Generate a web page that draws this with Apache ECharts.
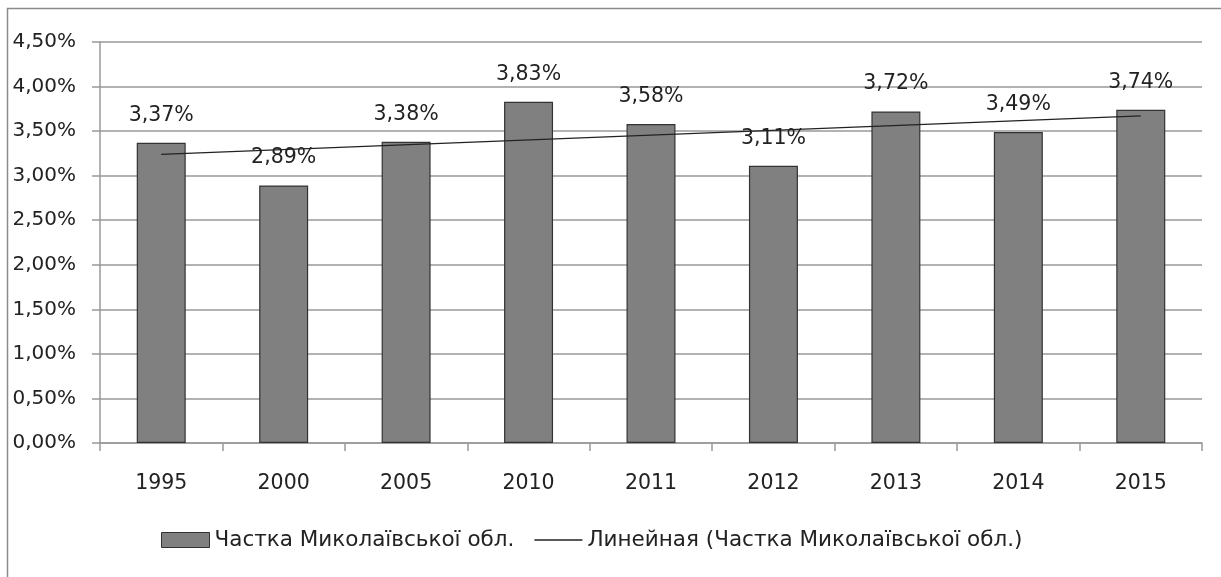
<!DOCTYPE html>
<html>
<head>
<meta charset="utf-8">
<script src="https://cdn.jsdelivr.net/npm/echarts@6/dist/echarts.min.js"></script>
<style>html,body{margin:0;padding:0;background:#fff}#c{width:1221px;height:577px}</style>
</head>
<body>
<div id="c"></div>
<script>
const categories = ['1995','2000','2005','2010','2011','2012','2013','2014','2015'];
const shareValues = [3.37, 2.89, 3.38, 3.83, 3.58, 3.11, 3.72, 3.49, 3.74];
// trend line end points (first and last category), joined straight
const trendValues = [3.24, '-', '-', '-', '-', '-', '-', '-', 3.67];
const barName = 'Частка Миколаївської обл.';
const lineName = 'Линейная (Частка Миколаївської обл.)';

const fmt = v => v.toFixed(2).replace('.', ',') + '%';
const font = 'DejaVu Sans';

const chart = echarts.init(document.getElementById('c'), null, {renderer: 'canvas'});
chart.setOption({
  animation: false,
  backgroundColor: '#fff',
  textStyle: {fontFamily: font},
  graphic: [{
    type: 'rect', silent: true, z: -1,
    shape: {x: 7.5, y: 8.5, width: 1240, height: 620},
    style: {fill: 'none', stroke: '#8a8a8a', lineWidth: 1.5}
  }],
  grid: {left: 100, right: 19, top: 42, bottom: 134},
  legend: {
    bottom: 21, left: 156,
    itemGap: 20,
    textStyle: {fontFamily: font, fontSize: 21.5, color: '#222'},
    data: [
      {name: barName, icon: 'rect', itemStyle: {color: '#808080', borderColor: '#333', borderWidth: 1}},
      {name: lineName, icon: 'path://M0,0 L40,0 L40,1.3 L0,1.3 Z', symbolKeepAspect: true,
       itemStyle: {color: '#222', borderWidth: 0}}
    ],
    itemWidth: 48, itemHeight: 15
  },
  xAxis: {
    type: 'category', data: categories,
    axisLine: {lineStyle: {color: '#999', width: 1.5}},
    axisTick: {show: true, length: 8, alignWithLabel: false, lineStyle: {color: '#999', width: 1.5}},
    axisLabel: {margin: 30, fontSize: 20.5, color: '#222', fontFamily: font}
  },
  yAxis: {
    type: 'value', min: 0, max: 4.5, interval: 0.5,
    axisLine: {show: true, lineStyle: {color: '#999', width: 1.5}},
    axisTick: {show: true, length: 8, lineStyle: {color: '#999', width: 1.5}},
    splitLine: {lineStyle: {color: '#999', width: 1.5}},
    axisLabel: {margin: 24, fontSize: 20, color: '#222', fontFamily: font, formatter: v => fmt(v)}
  },
  series: [
    {
      name: barName, type: 'bar', data: shareValues, barWidth: '40%',
      itemStyle: {color: '#808080', borderColor: '#333', borderWidth: 1.2},
      label: {show: true, position: 'top', distance: 17, fontSize: 20.5, color: '#222', fontFamily: font, formatter: p => fmt(p.value)}
    },
    {
      name: lineName, type: 'line', data: trendValues, connectNulls: true,
      symbol: 'none', z: 5,
      lineStyle: {color: '#222', width: 1.3},
      itemStyle: {color: '#222'}
    }
  ]
});
</script>
</body>
</html>
